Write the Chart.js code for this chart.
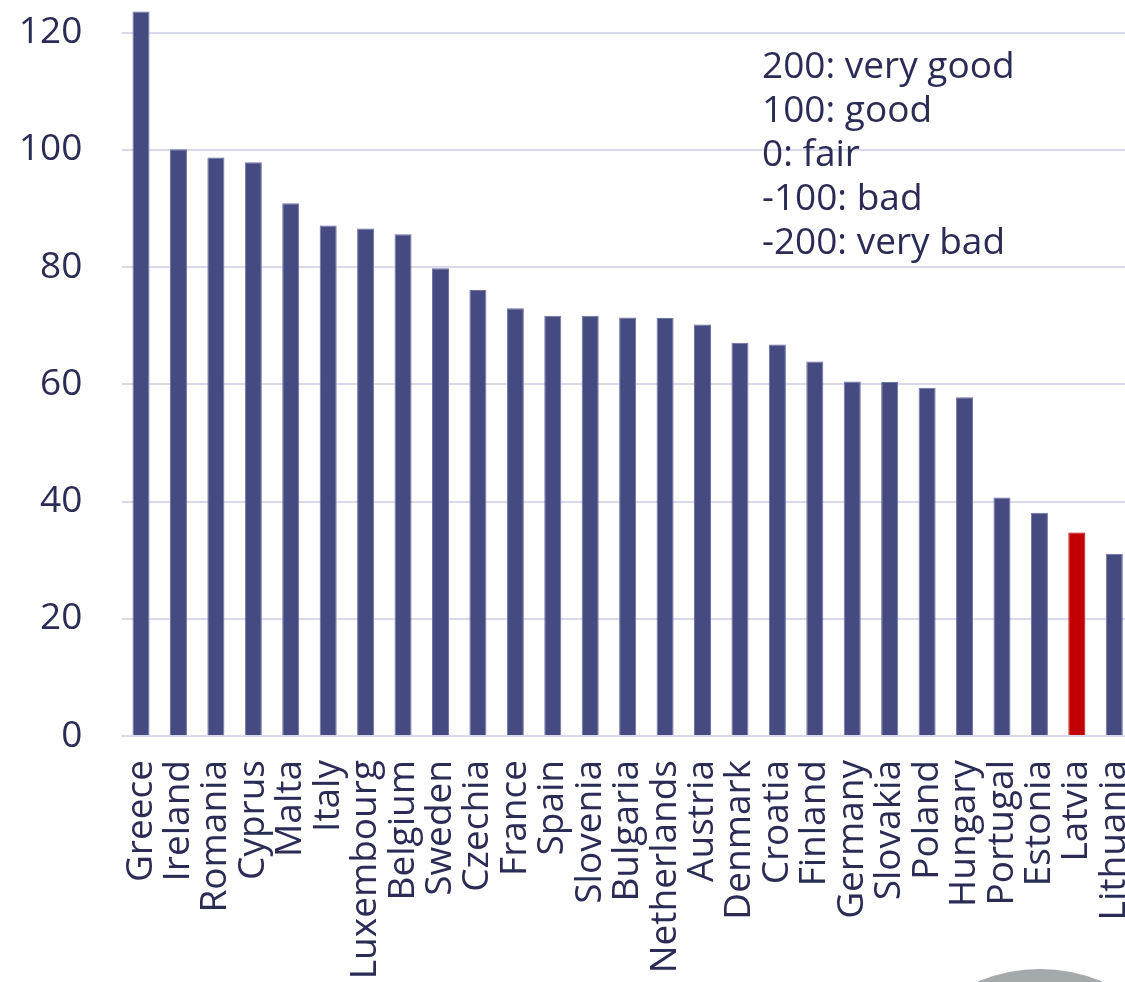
<!DOCTYPE html>
<html>
<head>
<meta charset="utf-8">
<script src="https://cdn.jsdelivr.net/npm/chart.js@4/dist/chart.umd.min.js"></script>
<style>
  html, body { margin: 0; padding: 0; background: #fff; overflow: hidden; }
  #wrap { width: 1125px; height: 982px; overflow: hidden; position: relative; }
  #legendNote {
    position: absolute; left: 762px; top: 42px;
    font-family: "Open Sans", sans-serif; font-size: 37px; line-height: 44px;
    color: #2b2c55; white-space: pre;
  }
</style>
</head>
<body>
<div id="wrap">
  <canvas id="scoreChart" width="1133" height="982"></canvas>
  <div id="legendNote">200: very good
100: good
0: fair
-100: bad
-200: very bad</div>
</div>
<script>
// الدول مرتبة حسب النتيجة
const countries = ['Greece', 'Ireland', 'Romania', 'Cyprus', 'Malta', 'Italy', 'Luxembourg', 'Belgium',
  'Sweden', 'Czechia', 'France', 'Spain', 'Slovenia', 'Bulgaria', 'Netherlands', 'Austria', 'Denmark',
  'Croatia', 'Finland', 'Germany', 'Slovakia', 'Poland', 'Hungary', 'Portugal', 'Estonia', 'Latvia', 'Lithuania'];
// قيم المؤشر لكل دولة
const scores = [123.6, 100.1, 98.7, 97.9, 90.9, 87.1, 86.6, 85.6,
  79.8, 76.1, 73.0, 71.7, 71.7, 71.4, 71.3, 70.2, 67.1,
  66.8, 63.9, 60.5, 60.4, 59.4, 57.8, 40.7, 38.1, 34.7, 31.1];
// الدولة المميزة باللون الأحمر
const highlighted = ['Latvia'];
// علامات المحور Y
const yTicks = [0, 20, 40, 60, 80, 100, 120];

const textColor = '#2b2c55';
const barColors = countries.map(c => highlighted.includes(c) ? '#c00000' : '#454a80');
const borderColors = countries.map(c => highlighted.includes(c) ? '#c00000' : '#6e72a3');

// دائرة رمادية في أسفل الصفحة
const cornerCircle = {
  id: 'cornerCircle',
  afterDraw(chart) {
    const ctx = chart.ctx;
    ctx.save();
    ctx.fillStyle = '#a4aaab';
    ctx.beginPath();
    ctx.arc(1040, 1128, 159, 0, Math.PI * 2);
    ctx.fill();
    ctx.restore();
  }
};

const ctx = document.getElementById('scoreChart').getContext('2d');
const scoreChart = new Chart(ctx, {
  type: 'bar',
  data: {
    labels: countries,
    datasets: [{
      data: scores,
      backgroundColor: barColors,
      borderColor: borderColors,
      borderWidth: 1,
      categoryPercentage: 1,
      barPercentage: 0.455
    }]
  },
  options: {
    responsive: false,
    animation: false,
    layout: { padding: { top: 1.6, right: 0, left: 0, bottom: 0 } },
    plugins: { legend: { display: false }, tooltip: { enabled: false } },
    scales: {
      x: {
        grid: { display: false },
        border: { color: '#d9d9ec', width: 2 },
        ticks: {
          color: textColor,
          font: { family: 'Open Sans', size: 37 },
          minRotation: 90, maxRotation: 90,
          autoSkip: false,
          padding: 16
        },
        afterFit(scale) {
          scale.height = 246;
          scale.paddingLeft = 0;
          scale.paddingRight = 0;
        }
      },
      y: {
        min: 0,
        max: 125.3,
        grid: { color: '#d9d9ec', lineWidth: 2, drawTicks: false },
        border: { display: false },
        ticks: {
          color: textColor,
          font: { family: 'Open Sans', size: 37 },
          padding: 40
        },
        afterBuildTicks(scale) {
          scale.ticks = yTicks.map(v => ({ value: v }));
        },
        afterFit(scale) {
          scale.width = 122.3;
          scale.paddingTop = 0;
          scale.paddingBottom = 0;
        }
      }
    }
  },
  plugins: [cornerCircle]
});
</script>
</body>
</html>
